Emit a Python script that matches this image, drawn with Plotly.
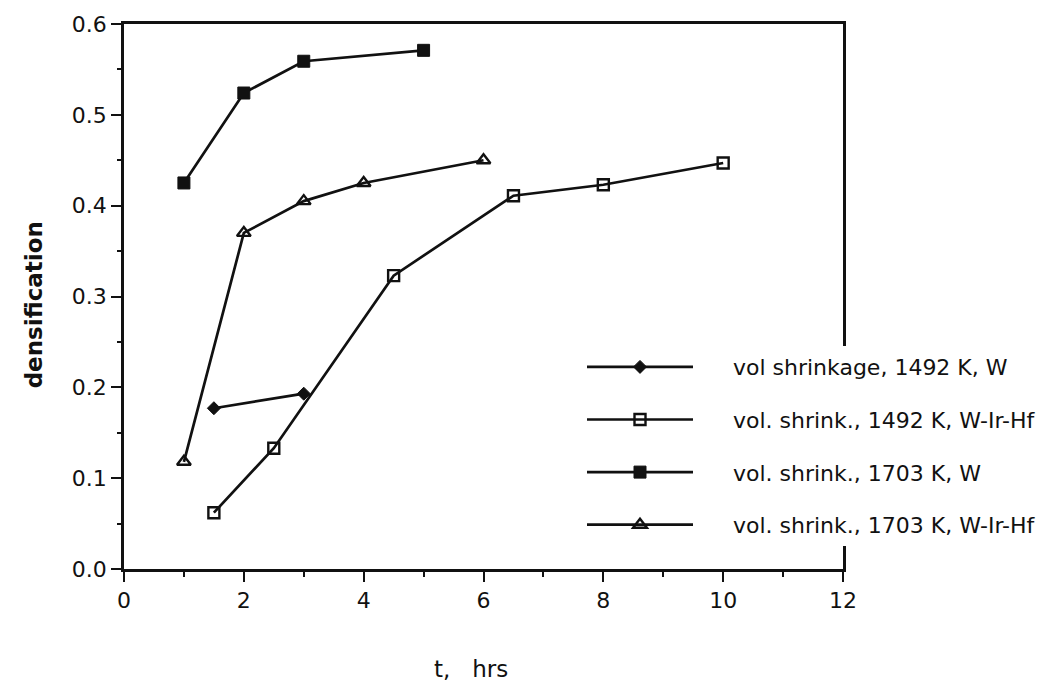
import plotly.graph_objects as go

# data
t_1492_W = [1.5, 3.0]
d_1492_W = [0.177, 0.193]

t_1492_WIrHf = [1.5, 2.5, 4.5, 6.5, 8.0, 10.0]
d_1492_WIrHf = [0.062, 0.133, 0.323, 0.411, 0.423, 0.447]

t_1703_W = [1.0, 2.0, 3.0, 5.0]
d_1703_W = [0.425, 0.524, 0.559, 0.571]

t_1703_WIrHf = [1.0, 2.0, 3.0, 4.0, 6.0]
d_1703_WIrHf = [0.118, 0.370, 0.405, 0.425, 0.450]

names = [
    "vol shrinkage, 1492 K, W",
    "vol. shrink., 1492 K, W-Ir-Hf",
    "vol. shrink., 1703 K, W",
    "vol. shrink., 1703 K, W-Ir-Hf",
]

FONT = "DejaVu Sans"
BLACK = "#111111"
PAD = "\u00a0" * 5

fig = go.Figure()

series = [
    (t_1492_W, d_1492_W, "diamond", 10, BLACK, 1),
    (t_1492_WIrHf, d_1492_WIrHf, "square-open", 11, BLACK, 2.4),
    (t_1703_W, d_1703_W, "square", 12, BLACK, 1),
    (t_1703_WIrHf, d_1703_WIrHf, "triangle-up-open", 12, BLACK, 2.4),
]
for i, (x, y, sym, sz, col, lw) in enumerate(series):
    fig.add_trace(go.Scatter(
        x=x, y=y, name=PAD + names[i], mode="lines+markers",
        legendgroup=f"g{i}",
        line=dict(color=BLACK, width=2.7),
        marker=dict(symbol=sym, size=sz, color=col,
                    line=dict(color=BLACK, width=lw)),
    ))

fig.update_layout(
    width=1060, height=686,
    margin=dict(l=124, r=217, t=17, b=117),
    paper_bgcolor="white", plot_bgcolor="white",
    font=dict(family=FONT, size=22, color=BLACK),
    showlegend=True,
    legend=dict(
        x=0.637, y=0.409, xanchor="left", yanchor="top",
        bgcolor="white", borderwidth=0,
        font=dict(family=FONT, size=22, color=BLACK),
        traceorder="grouped", tracegroupgap=21,
        itemwidth=106,
    ),
    xaxis=dict(
        range=[0, 12], dtick=2, tick0=0,
        showline=True, linewidth=2.5, linecolor=BLACK, mirror=True,
        ticks="outside", ticklen=10, tickwidth=2, tickcolor=BLACK,
        minor=dict(dtick=1, ticks="outside", ticklen=5, tickwidth=2, tickcolor=BLACK),
        showgrid=False, zeroline=False,
        tickfont=dict(family=FONT, size=22, color=BLACK),
    ),
    yaxis=dict(
        range=[0, 0.6], dtick=0.1, tick0=0, tickformat=".1f",
        showline=True, linewidth=2.5, linecolor=BLACK, mirror=True,
        ticks="outside", ticklen=10, tickwidth=2, tickcolor=BLACK,
        minor=dict(dtick=0.05, ticks="outside", ticklen=4, tickwidth=2, tickcolor=BLACK),
        showgrid=False, zeroline=False,
        tickfont=dict(family=FONT, size=22, color=BLACK),
    ),
    annotations=[
        dict(text="t,\u00a0\u00a0 hrs", xref="paper", yref="paper",
             x=0.4826, y=-0.183, xanchor="center", yanchor="middle",
             showarrow=False, font=dict(family=FONT, size=23, color=BLACK)),
        dict(text="<b>densification</b>", xref="paper", yref="paper",
             x=-0.125, y=0.484, xanchor="center", yanchor="middle",
             textangle=-90, showarrow=False,
             font=dict(family=FONT, size=23, color=BLACK)),
    ],
)

fig.write_html("out.html")
